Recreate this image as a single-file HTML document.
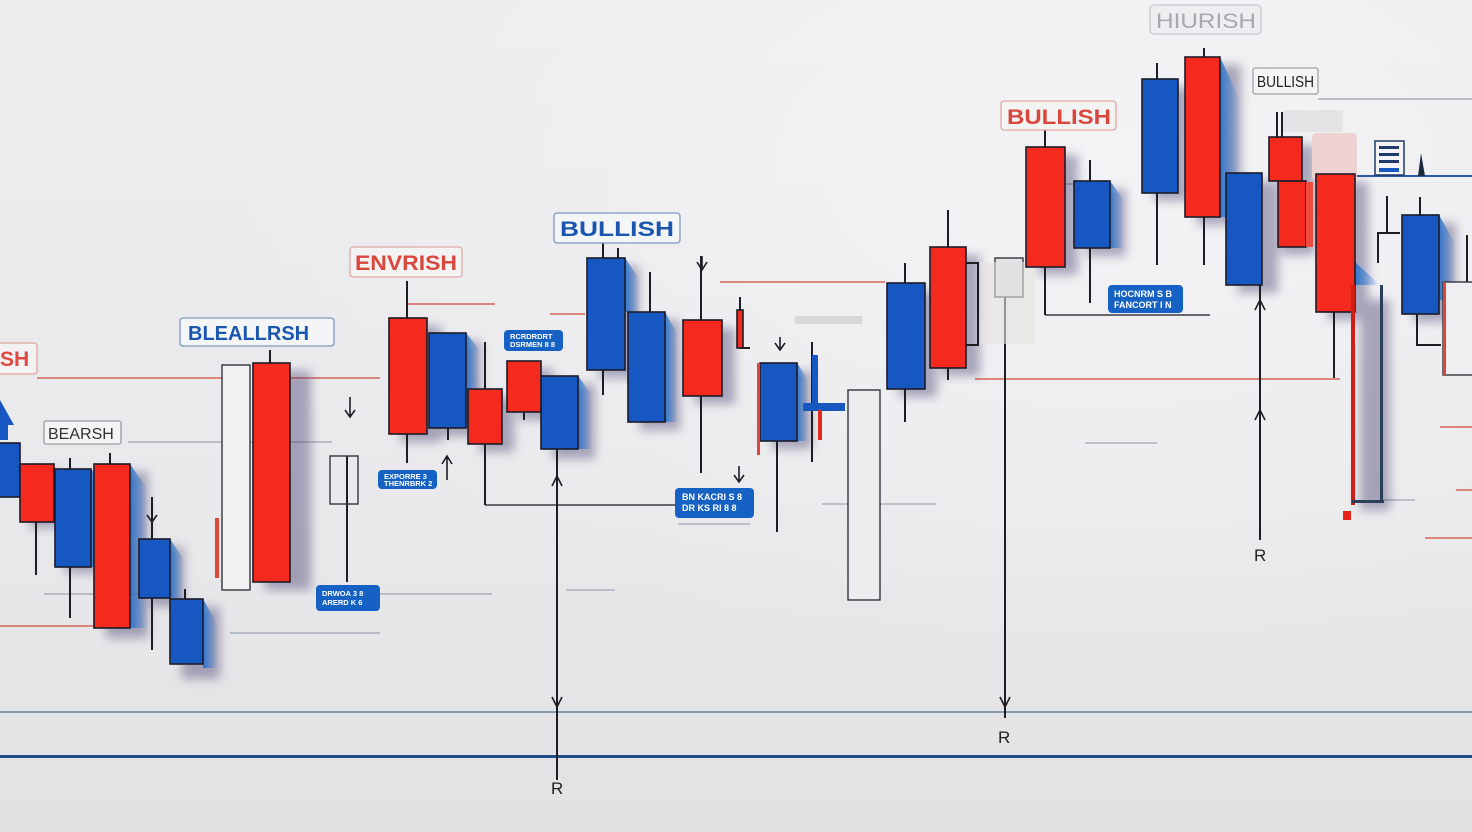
<!DOCTYPE html>
<html><head><meta charset="utf-8"><style>
html,body{margin:0;padding:0;width:1472px;height:832px;overflow:hidden;background:#eaeaec}
svg{display:block}
text{font-family:"Liberation Sans",sans-serif}
</style></head><body>
<svg width="1472" height="832" viewBox="0 0 1472 832" xmlns="http://www.w3.org/2000/svg">
<defs>
<linearGradient id="bg" x1="0" y1="0" x2="0" y2="1">
<stop offset="0" stop-color="#ededef"/><stop offset="0.6" stop-color="#e9e9eb"/><stop offset="1" stop-color="#e2e2e4"/>
</linearGradient>
<radialGradient id="hl" cx="0.75" cy="0.2" r="0.6">
<stop offset="0" stop-color="#f4f4f6" stop-opacity="0.9"/><stop offset="1" stop-color="#f4f4f6" stop-opacity="0"/>
</radialGradient>
<linearGradient id="bs" x1="0" y1="0" x2="1" y2="0">
<stop offset="0" stop-color="#1f6fd0" stop-opacity="0.85"/><stop offset="1" stop-color="#1f6fd0" stop-opacity="0"/>
</linearGradient>
<filter id="sh" x="-50%" y="-50%" width="200%" height="200%"><feGaussianBlur stdDeviation="5"/></filter>
</defs>
<rect width="1472" height="832" fill="url(#bg)"/>
<rect width="1472" height="832" fill="url(#hl)"/>

<!-- bottom lines -->
<rect x="0" y="711" width="1472" height="2" fill="#8d9cad"/>
<rect x="0" y="755" width="1472" height="3" fill="#1d4b8c"/>

<!-- horizontal guide lines -->
<g stroke-width="1.6" fill="none">
<path stroke="#d9625a" d="M37 378H228M290 378H380M407 304H495M550 314H585M720 282H885M975 379H1340M0 626H94M1440 427H1472M1456 490H1472M1425 538H1472"/>
<path stroke="#a9b0bc" d="M128 442H332M44 594H160M380 594H492M230 633H380M566 590H615M1085 443H1157M822 504H936M678 524H750M1318 99H1472M1384 500H1415M1040 184H1100"/>
<path stroke="#3a3a44" d="M485 505H735M1045 315H1210"/>
<path stroke="#2a5aa8" stroke-width="2" d="M1357 176H1472"/>
</g>

<!-- shadows -->
<g fill="#453c6e" opacity="0.42" filter="url(#sh)">
<rect x="30" y="470" width="30" height="58"/>
<rect x="65" y="475" width="36" height="98"/>
<rect x="106" y="472" width="42" height="166"/>
<rect x="150" y="547" width="34" height="60"/>
<rect x="182" y="607" width="38" height="72"/>
<rect x="265" y="371" width="46" height="219"/>
<rect x="401" y="326" width="40" height="116"/>
<rect x="441" y="341" width="40" height="95"/>
<rect x="480" y="397" width="34" height="55"/>
<rect x="519" y="369" width="34" height="51"/>
<rect x="553" y="384" width="42" height="75"/>
<rect x="599" y="266" width="40" height="112"/>
<rect x="640" y="320" width="40" height="110"/>
<rect x="695" y="328" width="40" height="76"/>
<rect x="772" y="371" width="40" height="78"/>
<rect x="899" y="291" width="38" height="106"/>
<rect x="942" y="255" width="38" height="121"/>
<rect x="1038" y="155" width="40" height="120"/>
<rect x="1086" y="189" width="40" height="67"/>
<rect x="1154" y="87" width="36" height="114"/>
<rect x="1197" y="65" width="44" height="160"/>
<rect x="1238" y="181" width="40" height="112"/>
<rect x="1281" y="145" width="34" height="110"/>
<rect x="1328" y="182" width="40" height="138"/>
<rect x="1360" y="300" width="30" height="210"/>
<rect x="1414" y="223" width="42" height="99"/>
</g>

<!-- blue side faces -->
<g fill="url(#bs)">
<path d="M91 469L104 484V567H91Z"/>
<path d="M130 464L148 490V628H130Z"/>
<path d="M170 539L184 560V598H170Z"/>
<path d="M203 599L218 625V668H203Z"/>
<path d="M466 333L480 350V428H466Z"/>
<path d="M578 376L592 395V449H578Z"/>
<path d="M625 258L640 280V312H625Z"/>
<path d="M665 312L678 335V422H665Z"/>
<path d="M797 363L808 380V441H797Z"/>
<path d="M1110 181L1124 200V248H1110Z"/>
<path d="M1220 57L1240 100V217H1220Z"/>
<path d="M1439 215L1456 245V300H1439Z"/>
<path d="M1355 262L1380 285H1355Z"/>
</g>

<!-- wicks -->
<g stroke="#1d1d24" stroke-width="2" fill="none">
<path d="M36 522V575M70 458V618M110 453V464M152 497V650M185 589V599M270 350V363M347 456V582"/>
<path d="M407 281V463M448 428V440M485 342V505M524 412V420M557 449V780M603 243V395M618 248V258M650 272V312M701 256V473M740 297V348M777 441V532M812 342V462"/>
<path d="M905 263V422M948 210V380M1005 297V718M1045 130V315M1090 160V303M1157 63V265M1204 48V265M1260 285V540M1277 112V137M1282 112V137M1334 160V378M1420 197V215M1467 235V282M1387 196V233"/>
<path d="M740 348H750M1417 314V345H1441M1378 263V233H1400M966 263H978V345H966"/>
</g>

<!-- open boxes -->
<g fill="none" stroke="#34343c" stroke-width="1.4">
<rect x="330" y="456" width="28" height="48"/>
<rect x="222" y="365" width="28" height="225" fill="#f1f1f2"/>
<rect x="848" y="390" width="32" height="210" fill="#ececee"/>
<rect x="995" y="258" width="28" height="39" fill="#e2e2e4"/>
<rect x="1443" y="282" width="32" height="93" fill="#efeff1"/>
</g>
<rect x="795" y="316" width="67" height="8" fill="#d8d8da"/>
<rect x="980" y="262" width="55" height="82" fill="#e6e2e0" opacity="0.6"/>
<rect x="1312" y="133" width="45" height="47" rx="4" fill="#eed2d2"/>
<rect x="1283" y="110" width="60" height="22" fill="#e4e4e6"/>

<!-- candle bodies -->
<g stroke="#1b1b28" stroke-width="1.6">
<g fill="#1757c2">
<rect x="-4" y="443" width="24" height="54"/>
<rect x="55" y="469" width="36" height="98"/>
<rect x="139" y="539" width="31" height="59"/>
<rect x="170" y="599" width="33" height="65"/>
<rect x="429" y="333" width="37" height="95"/>
<rect x="541" y="376" width="37" height="73"/>
<rect x="587" y="258" width="38" height="112"/>
<rect x="628" y="312" width="37" height="110"/>
<rect x="760" y="363" width="37" height="78"/>
<rect x="887" y="283" width="38" height="106"/>
<rect x="1074" y="181" width="36" height="67"/>
<rect x="1142" y="79" width="36" height="114"/>
<rect x="1226" y="173" width="36" height="112"/>
<rect x="1402" y="215" width="37" height="99"/>
</g>
<g fill="#f42a1e">
<rect x="20" y="464" width="34" height="58"/>
<rect x="94" y="464" width="36" height="164"/>
<rect x="253" y="363" width="37" height="219"/>
<rect x="389" y="318" width="38" height="116"/>
<rect x="468" y="389" width="34" height="55"/>
<rect x="507" y="361" width="34" height="51"/>
<rect x="683" y="320" width="39" height="76"/>
<rect x="737" y="310" width="6" height="38"/>
<rect x="930" y="247" width="36" height="121"/>
<rect x="1026" y="147" width="39" height="120"/>
<rect x="1185" y="57" width="35" height="160"/>
<rect x="1269" y="137" width="33" height="44"/>
<rect x="1278" y="181" width="28" height="66"/>
<rect x="1316" y="174" width="39" height="138"/>
</g>
</g>
<!-- misc thin pieces -->
<rect x="1306" y="182" width="7" height="65" fill="#ef4a3e"/>
<rect x="812" y="355" width="6" height="50" fill="#1757c2"/>
<rect x="803" y="403" width="42" height="8" fill="#1757c2"/>
<rect x="818" y="410" width="4" height="30" fill="#e02a20"/>
<rect x="757" y="363" width="3" height="92" fill="#e0453a"/>
<rect x="215" y="518" width="4" height="60" fill="#e0453a"/>
<rect x="1351" y="285" width="4" height="220" fill="#d01e16"/>
<rect x="1380" y="285" width="3" height="217" fill="#2a3f5c"/>
<rect x="1352" y="500" width="32" height="3" fill="#2a3f5c"/>
<rect x="1343" y="511" width="8" height="9" fill="#e8231a"/>
<rect x="1443" y="282" width="3" height="93" fill="#e0453a"/>
<rect x="1375" y="141" width="29" height="34" fill="#f4f4f6" stroke="#1d3a6a" stroke-width="1.5"/>
<g fill="#1d3a6a"><rect x="1379" y="146" width="20" height="3"/><rect x="1379" y="153" width="20" height="3"/><rect x="1379" y="160" width="20" height="3"/><rect x="1379" y="168" width="20" height="4" fill="#1757c2"/></g>
<path d="M1418 176L1421 153L1425 176Z" fill="#1d2a40"/>
<path d="M0 400L14 425H8V440H0Z" fill="#1757c2"/>

<!-- arrows -->
<g stroke="#1d1d24" stroke-width="1.6" fill="none">
<path d="M350 397V417M345 410L350 417L355 410"/>
<path d="M702 256V270M697 262L702 270L707 262"/>
<path d="M739 466V482M734 475L739 482L744 475"/>
<path d="M780 337V350M775 343L780 350L785 343"/>
<path d="M447 480V456M442 464L447 456L452 464"/>
<path d="M552 486L557 476L562 486M552 697L557 707L562 697"/>
<path d="M1000 697L1005 707L1010 697"/>
<path d="M1255 310L1260 300L1265 310M1255 420L1260 410L1265 420"/>
<path d="M152 505V522M147 515L152 522L157 515"/>
</g>
<g font-size="17" fill="#222">
<text x="551" y="794">R</text>
<text x="998" y="743">R</text>
<text x="1254" y="561">R</text>
</g>

<!-- labels -->
<g stroke-width="1.3">
<rect x="-10" y="343" width="47" height="31" rx="3" fill="#f2f2f3" stroke="#e2a3a0"/>
<rect x="44" y="421" width="77" height="23" rx="2" fill="#f4f4f5" stroke="#9a9aa2"/>
<rect x="180" y="318" width="154" height="28" rx="3" fill="#f4f5f7" stroke="#7e98bd"/>
<rect x="350" y="247" width="112" height="30" rx="3" fill="#f4f3f3" stroke="#e0a8a4"/>
<rect x="554" y="213" width="126" height="30" rx="3" fill="#f4f5f7" stroke="#7e98bd"/>
<rect x="1001" y="101" width="115" height="29" rx="3" fill="#f4f3f3" stroke="#e0a8a4"/>
<rect x="1150" y="5" width="111" height="29" rx="4" fill="#eeeef0" stroke="#c8c8cc"/>
<rect x="1253" y="68" width="65" height="26" rx="2" fill="#f4f4f5" stroke="#a0a0a8"/>
</g>
<g font-weight="bold">
<text x="0" y="366" font-size="21" fill="#de4a40">SH</text>
<text x="188" y="340" font-size="20" fill="#1a56b0">BLEALLRSH</text>
<text x="355" y="270" font-size="21" fill="#d9473d" textLength="102" lengthAdjust="spacingAndGlyphs">ENVRISH</text>
<text x="560" y="236" font-size="21" fill="#1a56b0" textLength="114" lengthAdjust="spacingAndGlyphs">BULLISH</text>
<text x="1007" y="124" font-size="21" fill="#d9473d" textLength="104" lengthAdjust="spacingAndGlyphs">BULLISH</text>
<text x="1156" y="28" font-size="21" fill="#a8a8ae" font-weight="normal" textLength="100" lengthAdjust="spacingAndGlyphs">HIURISH</text>
</g>
<text x="48" y="439" font-size="16" fill="#333">BEARSH</text>
<text x="1257" y="87" font-size="16" fill="#222" textLength="57" lengthAdjust="spacingAndGlyphs">BULLISH</text>

<!-- badges -->
<g fill="#1662c4">
<rect x="378" y="470" width="59" height="19" rx="4"/>
<rect x="504" y="330" width="59" height="21" rx="4"/>
<rect x="316" y="585" width="64" height="26" rx="4"/>
<rect x="675" y="488" width="79" height="30" rx="4"/>
<rect x="1108" y="285" width="75" height="28" rx="4"/>
</g>
<g fill="#fff" font-size="7.5" font-weight="bold">
<text x="384" y="479">EXPORRE 3</text><text x="384" y="486">THENRBRK 2</text>
<text x="510" y="339">RCRDRDRT</text><text x="510" y="347">DSRMEN 8 8</text>
<text x="322" y="596">DRWOA 3 8</text><text x="322" y="605">ARERD K 6</text>
<text x="682" y="500" font-size="9">BN KACRI S 8</text><text x="682" y="511" font-size="9">DR KS RI 8 8</text>
<text x="1114" y="297" font-size="9">HOCNRM S B</text><text x="1114" y="308" font-size="9">FANCORT I N</text>
</g>
</svg>
</body></html>
